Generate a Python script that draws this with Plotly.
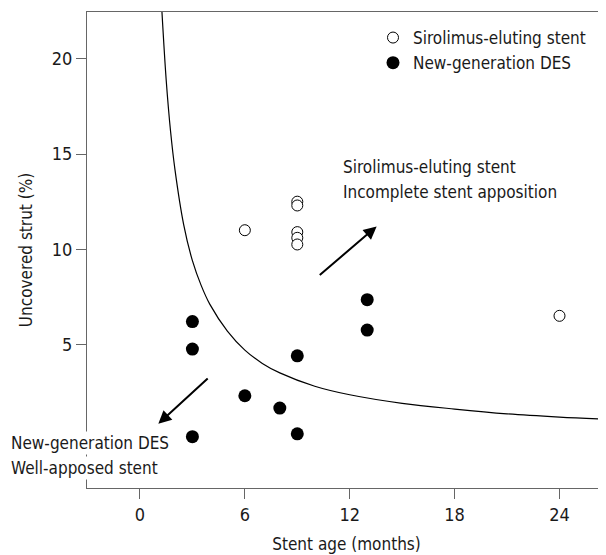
import plotly.graph_objects as go

# Sirolimus-eluting stent (open circles)
ses_age = [6, 9, 9, 9, 9, 9, 24]
ses_uncovered = [11.0, 12.5, 12.3, 10.9, 10.6, 10.25, 6.5]

# New-generation DES (filled circles)
des_age = [3, 3, 3, 6, 8, 9, 9, 13, 13]
des_uncovered = [6.2, 4.75, 0.15, 2.3, 1.65, 4.4, 0.3, 7.35, 5.75]

# Boundary curve
curve_age = [1.25, 1.5, 1.75, 2, 2.5, 3, 3.5, 4, 5, 6, 7, 8, 10, 12, 15, 18, 21, 24, 27]
curve_uncovered = [22.6, 18.9, 16.2, 14.2, 11.3, 9.4, 8.1, 7.1, 5.7, 4.7, 4.0, 3.5,
                   2.8, 2.35, 1.9, 1.6, 1.35, 1.18, 1.05]

x_ticks = [0, 6, 12, 18, 24]
y_ticks = [5, 10, 15, 20]

FONT = "Liberation Sans Narrow, DejaVu Sans Condensed, Arial Narrow, sans-serif"
TXT = "#1a1a1a"

OFF = 8  # page body margin
W, H = 606 - OFF, 555 - OFF
L, T, R = 87 - OFF, 12 - OFF, 0
B = H - (488 - OFF)
PW, PH = W - L - R, H - T - B


def px(xp):
    return (xp - OFF - L) / PW


def py(yp):
    return 1 - (yp - OFF - T) / PH


fig = go.Figure()
fig.add_trace(go.Scatter(
    x=curve_age, y=curve_uncovered, mode="lines", line=dict(color="black", width=1.2, shape="spline"),
    showlegend=False, hoverinfo="skip"))
fig.add_trace(go.Scatter(
    x=ses_age, y=ses_uncovered, mode="markers", name="Sirolimus-eluting stent",
    marker=dict(symbol="circle", size=11, color="white", line=dict(color="black", width=1))))
fig.add_trace(go.Scatter(
    x=des_age, y=des_uncovered, mode="markers", name="New-generation DES",
    marker=dict(symbol="circle", size=13, color="black", line=dict(color="black", width=0))))

# arrows
fig.add_annotation(x=13.54, y=11.2, ax=10.2, ay=8.58, xref="x", yref="y", axref="x", ayref="y",
                   text="", showarrow=True, arrowhead=2, arrowsize=1.3, arrowwidth=2, arrowcolor="black")
fig.add_annotation(x=1.05, y=0.83, ax=3.96, ay=3.28, xref="x", yref="y", axref="x", ayref="y",
                   text="", showarrow=True, arrowhead=2, arrowsize=1.3, arrowwidth=2, arrowcolor="black")

note_font = dict(family=FONT, size=17, color=TXT)
for txt, xp, yp, bg in [
    ("Sirolimus-eluting stent", 341, 167, "rgba(0,0,0,0)"),
    ("Incomplete stent apposition", 341, 192, "rgba(0,0,0,0)"),
    ("New-generation DES", 9, 443, "white"),
    ("Well-apposed stent", 9, 468, "white"),
]:
    fig.add_annotation(text=txt, x=px(xp), y=py(yp), xref="paper", yref="paper",
                       xanchor="left", yanchor="middle", align="left", showarrow=False,
                       bgcolor=bg, borderpad=1, font=note_font)

fig.update_layout(
    width=W, height=H,
    margin=dict(l=L, r=R, t=T, b=B, pad=0),
    plot_bgcolor="white", paper_bgcolor="white",
    font=dict(family=FONT, size=17, color=TXT),
    showlegend=True,
    legend=dict(x=px(373), y=py(20), xanchor="left", yanchor="top",
                bgcolor="rgba(0,0,0,0)", font=dict(family=FONT, size=17, color=TXT),
                tracegroupgap=0, itemwidth=30),
    xaxis=dict(range=[-3.03, 26.66], tickvals=x_ticks, ticks="outside", ticklen=10, tickcolor="#666",
               showline=True, linecolor="#666", linewidth=1.3, mirror=True, showgrid=False, zeroline=False,
               automargin=False,
               title=dict(text="Stent age (months)", standoff=14, font=dict(size=17)),
               tickfont=dict(size=18)),
    yaxis=dict(range=[-2.55, 22.47], tickvals=y_ticks, ticks="outside", ticklen=10, tickcolor="#666",
               showline=True, linecolor="#666", linewidth=1.3, showgrid=False, zeroline=False,
               automargin=False,
               title=dict(text="Uncovered strut (%)", standoff=14, font=dict(size=17)),
               tickfont=dict(size=18)),
)

fig.write_html("out.html")
